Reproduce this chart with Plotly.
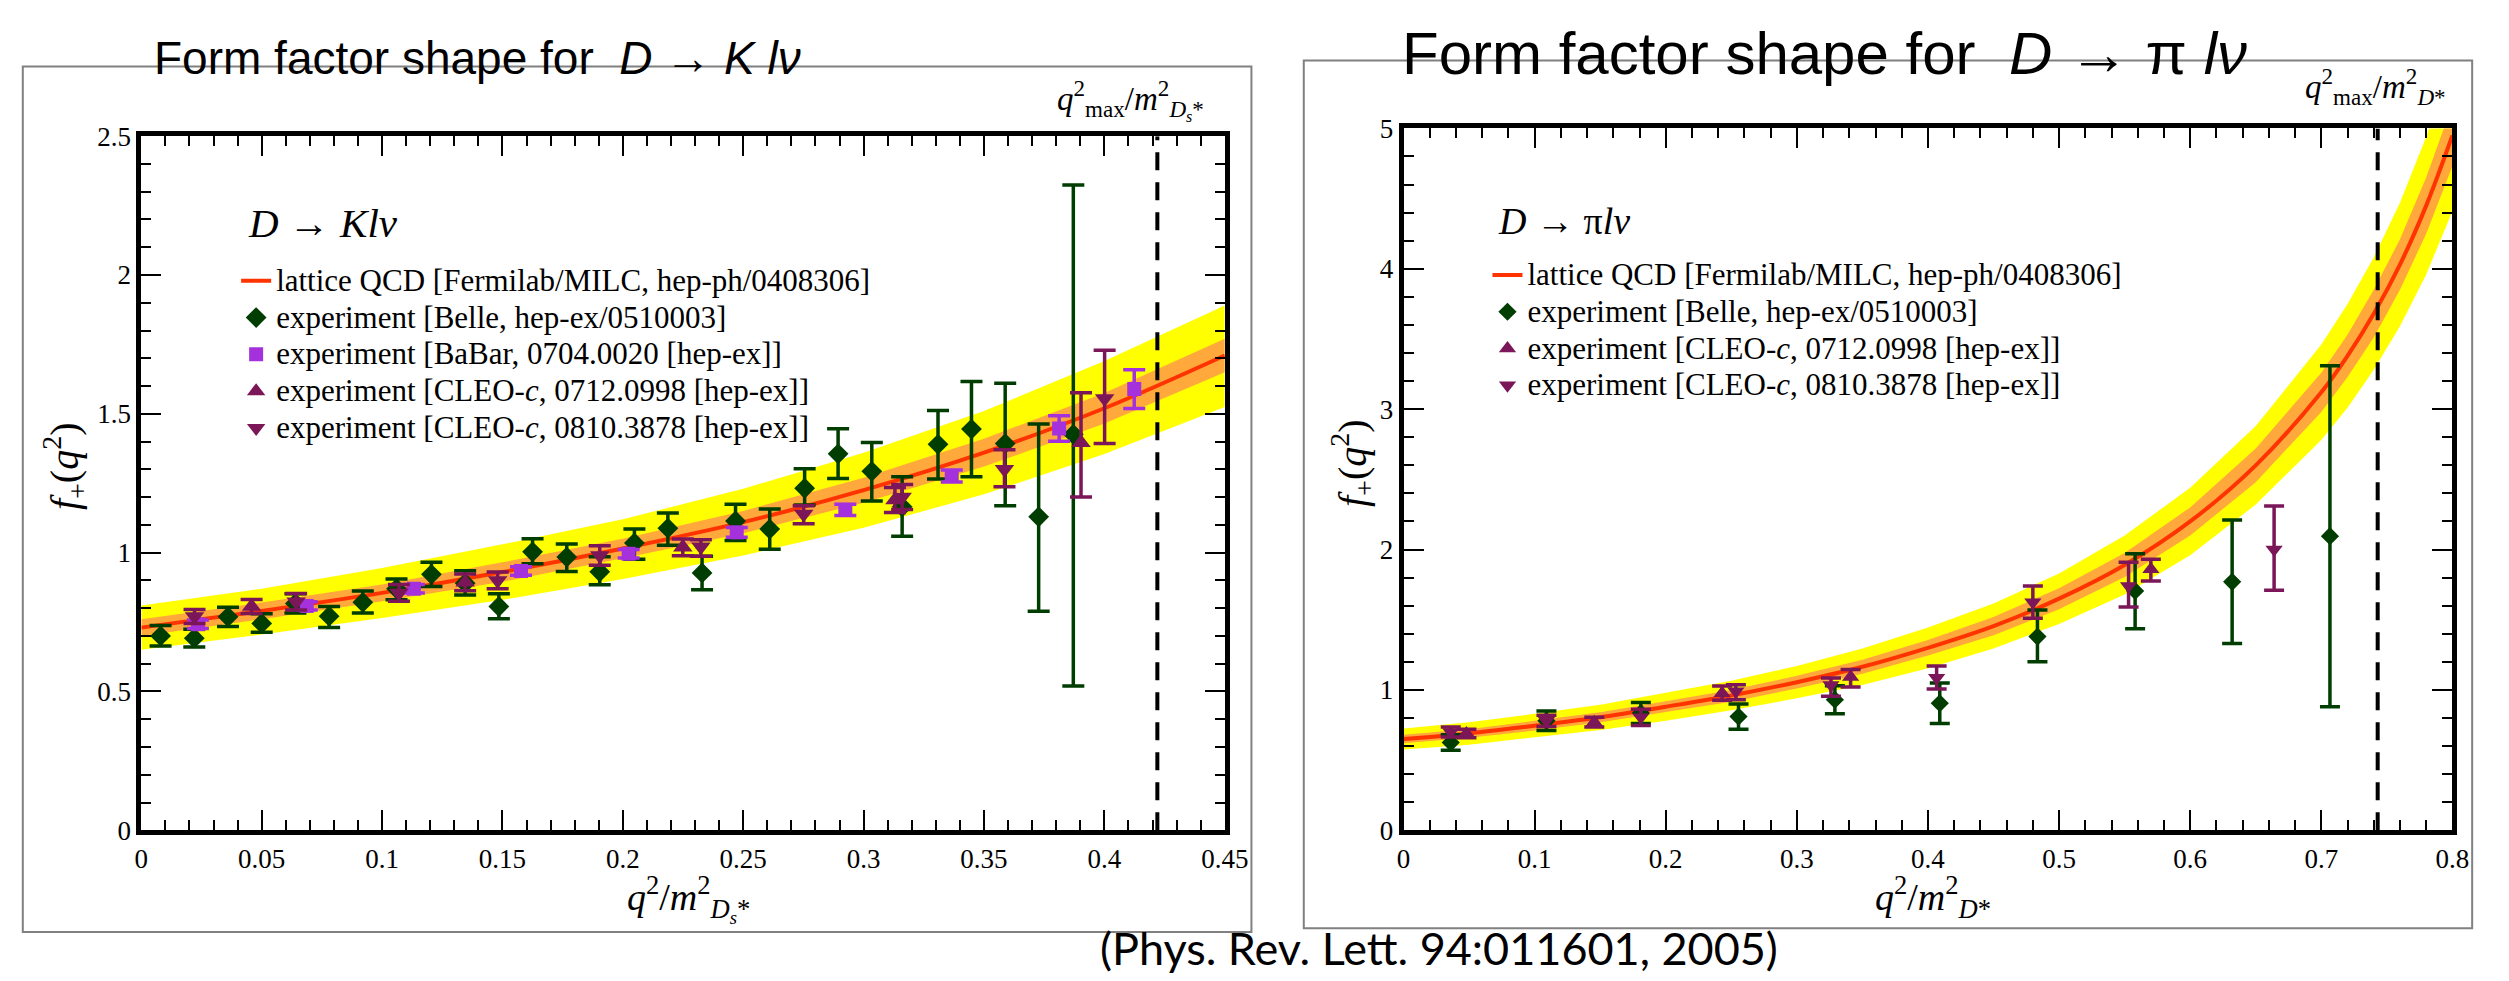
import plotly.graph_objects as go

W, H = 2509, 981

# ---------------- D -> K l nu (left panel) ----------------
k_xrange = [0, 0.45]
k_yrange = [0, 2.5]
k_qmax = 0.422

k_band_x    = [0.00, 0.05, 0.10, 0.15, 0.20, 0.25, 0.30, 0.35, 0.40, 0.45]
k_lqcd      = [0.73, 0.79, 0.855, 0.93, 1.015, 1.11, 1.225, 1.36, 1.52, 1.71]
k_yellow_hi = [0.81, 0.87, 0.945, 1.03, 1.12, 1.23, 1.36, 1.51, 1.69, 1.89]
k_yellow_lo = [0.65, 0.705, 0.765, 0.83, 0.905, 0.99, 1.09, 1.21, 1.355, 1.525]
k_orange_hi = [0.76, 0.82, 0.885, 0.965, 1.05, 1.15, 1.27, 1.41, 1.575, 1.77]
k_orange_lo = [0.70, 0.76, 0.825, 0.895, 0.98, 1.07, 1.18, 1.31, 1.465, 1.65]

k_belle_x  = [0.008, 0.022, 0.036, 0.050, 0.064, 0.078, 0.092, 0.106, 0.1205, 0.1345,
              0.1485, 0.1625, 0.1767, 0.1904, 0.2048, 0.2187, 0.2329, 0.2468, 0.261, 0.2755,
              0.2894, 0.3034, 0.316, 0.3309, 0.3448, 0.3588, 0.3727, 0.3871]
k_belle_y  = [0.70, 0.692, 0.769, 0.745, 0.817, 0.771, 0.821, 0.87, 0.922, 0.89,
              0.806, 1.003, 0.984, 0.931, 1.035, 1.088, 0.927, 1.114, 1.085, 1.232,
              1.356, 1.293, 1.165, 1.39, 1.445, 1.393, 1.129, 1.426]
k_belle_ep = [0.038, 0.032, 0.034, 0.035, 0.035, 0.035, 0.041, 0.035, 0.043, 0.045,
              0.046, 0.047, 0.047, 0.054, 0.05, 0.055, 0.06, 0.06, 0.072, 0.07,
              0.09, 0.104, 0.108, 0.122, 0.171, 0.217, 0.334, 0.898]
k_belle_em = [0.036, 0.032, 0.035, 0.032, 0.034, 0.041, 0.038, 0.04, 0.044, 0.043,
              0.044, 0.043, 0.052, 0.047, 0.059, 0.061, 0.061, 0.07, 0.073, 0.06,
              0.089, 0.107, 0.106, 0.125, 0.172, 0.224, 0.34, 0.906]

k_babar_x = [0.0235, 0.0687, 0.1132, 0.1577, 0.2024, 0.2473, 0.2924, 0.3366, 0.3812, 0.4124]
k_babar_y = [0.742, 0.808, 0.87, 0.934, 0.996, 1.073, 1.154, 1.276, 1.447, 1.589]
k_babar_e = [0.015, 0.015, 0.015, 0.015, 0.015, 0.018, 0.02, 0.022, 0.046, 0.07]

k_c07_x  = [0.0458, 0.1345, 0.2249, 0.313, 0.3903]
k_c07_y  = [0.806, 0.893, 1.019, 1.19, 1.396]
k_c07_ep = [0.025, 0.03, 0.03, 0.045, 0.18]
k_c07_em = [0.025, 0.03, 0.03, 0.045, 0.196]

k_c08_x  = [0.0221, 0.0643, 0.107, 0.148, 0.1904, 0.2324, 0.2751, 0.316, 0.3585, 0.4001]
k_c08_y  = [0.77, 0.823, 0.855, 0.90, 0.99, 1.021, 1.139, 1.20, 1.30, 1.555]
k_c08_ep = [0.025, 0.03, 0.03, 0.03, 0.035, 0.025, 0.03, 0.045, 0.071, 0.174]
k_c08_em = [0.025, 0.03, 0.03, 0.03, 0.035, 0.034, 0.035, 0.045, 0.063, 0.162]

# ---------------- D -> pi l nu (right panel) ----------------
p_xrange = [0, 0.8]
p_yrange = [0, 5]
p_qmax = 0.743

p_band_x    = [0, .05, .1, .15, .2, .25, .3, .35, .4, .45, .5, .55, .6, .65, .7, .72, .74, .76, .78, .8]
p_lqcd      = [0.65, 0.69, 0.745, 0.805, 0.88, 0.96, 1.055, 1.165, 1.30, 1.455, 1.65, 1.89, 2.2, 2.6, 3.12, 3.38, 3.68, 4.03, 4.45, 4.95]
p_yellow_hi = [0.725, 0.77, 0.83, 0.895, 0.98, 1.065, 1.17, 1.295, 1.445, 1.615, 1.83, 2.10, 2.44, 2.88, 3.46, 3.75, 4.08, 4.47, 4.94, 5.5]
p_yellow_lo = [0.575, 0.61, 0.66, 0.715, 0.78, 0.855, 0.94, 1.035, 1.155, 1.295, 1.47, 1.68, 1.96, 2.32, 2.78, 3.01, 3.28, 3.59, 3.96, 4.41]
p_orange_hi = [0.68, 0.72, 0.78, 0.84, 0.92, 1.0, 1.10, 1.215, 1.355, 1.52, 1.725, 1.975, 2.3, 2.72, 3.26, 3.53, 3.85, 4.21, 4.65, 5.17]
p_orange_lo = [0.62, 0.66, 0.71, 0.77, 0.84, 0.915, 1.01, 1.115, 1.245, 1.39, 1.575, 1.805, 2.1, 2.48, 2.98, 3.23, 3.51, 3.85, 4.25, 4.73]

p_belle_x  = [0.036, 0.109, 0.181, 0.2555, 0.329, 0.409, 0.4835, 0.558, 0.632, 0.7066]
p_belle_y  = [0.625, 0.78, 0.835, 0.81, 0.93, 0.905, 1.38, 1.705, 1.77, 2.095]
p_belle_ep = [0.055, 0.07, 0.075, 0.09, 0.1, 0.145, 0.19, 0.265, 0.44, 1.215]
p_belle_em = [0.055, 0.07, 0.075, 0.09, 0.1, 0.145, 0.18, 0.27, 0.44, 1.215]

p_c07_x  = [0.048, 0.1455, 0.243, 0.341, 0.570]
p_c07_y  = [0.69, 0.77, 0.977, 1.092, 1.86]
p_c07_ep = [0.03, 0.035, 0.05, 0.053, 0.07]
p_c07_em = [0.03, 0.035, 0.05, 0.072, 0.085]

p_c08_x  = [0.036, 0.109, 0.181, 0.2535, 0.326, 0.4066, 0.48, 0.553, 0.664]
p_c08_y  = [0.70, 0.78, 0.805, 0.99, 1.035, 1.086, 1.625, 1.74, 2.0]
p_c08_ep = [0.035, 0.04, 0.057, 0.046, 0.05, 0.084, 0.115, 0.17, 0.31]
p_c08_em = [0.035, 0.04, 0.058, 0.06, 0.081, 0.08, 0.115, 0.15, 0.29]

# legend labels
lab_lqcd = "lattice QCD [Fermilab/MILC, hep-ph/0408306]"
lab_belle = "experiment [Belle, hep-ex/0510003]"
lab_babar = "experiment [BaBar, 0704.0020 [hep-ex]]"
lab_c07 = "experiment [CLEO-<i>c</i>, 0712.0998 [hep-ex]]"
lab_c08 = "experiment [CLEO-<i>c</i>, 0810.3878 [hep-ex]]"

# ---------------- styles ----------------
BELLE = "#003d00"
BABAR = "#a431dc"
CLEO = "#7b1659"
LQCD = "#ff3300"
YELLOW = "#ffff00"
ORANGE = "#ffa83c"
SERIF = "Liberation Serif, Times New Roman, serif"
SANS = "Liberation Sans, Arial, Helvetica, sans-serif"
LEG_ROW_FONT = 26     # sets the legend row pitch
LEG_TEXT_FONT = 31    # size the legend text is drawn at


def px(x):
    return x / W


def py(y):
    return 1 - y / H


def legname(s):
    return '<span style="font-size:%dpx">%s</span>' % (LEG_TEXT_FONT, s)


fig = go.Figure()


def add_panel(xa, ya, leg, bx, yl, yh, ol, oh, lq, sets, capw):
    fig.add_trace(go.Scatter(x=bx + bx[::-1], y=yh + yl[::-1], fill="toself", fillcolor=YELLOW,
                             mode="lines", line=dict(width=0, color=YELLOW), xaxis=xa, yaxis=ya,
                             showlegend=False, hoverinfo="skip"))
    fig.add_trace(go.Scatter(x=bx + bx[::-1], y=oh + ol[::-1], fill="toself", fillcolor=ORANGE,
                             mode="lines", line=dict(width=0, color=ORANGE), xaxis=xa, yaxis=ya,
                             showlegend=False, hoverinfo="skip"))
    fig.add_trace(go.Scatter(x=bx, y=lq, mode="lines", line=dict(color=LQCD, width=4, shape="spline"),
                             name=legname(lab_lqcd), xaxis=xa, yaxis=ya, legend=leg))
    for (xs, ys, ep, em, col, sym, size, name) in sets:
        fig.add_trace(go.Scatter(
            x=xs, y=ys, mode="markers", name=legname(name), xaxis=xa, yaxis=ya, legend=leg,
            marker=dict(symbol=sym, size=size, color=col, line=dict(width=0)),
            error_y=dict(type="data", symmetric=False, array=ep, arrayminus=em,
                         color=col, thickness=3.5, width=capw)))


add_panel("x", "y", "legend", k_band_x, k_yellow_lo, k_yellow_hi, k_orange_lo, k_orange_hi, k_lqcd, [
    (k_belle_x, k_belle_y, k_belle_ep, k_belle_em, BELLE, "diamond", 16, lab_belle),
    (k_babar_x, k_babar_y, k_babar_e, k_babar_e, BABAR, "square", 14, lab_babar),
    (k_c07_x, k_c07_y, k_c07_ep, k_c07_em, CLEO, "triangle-up", 17, lab_c07),
    (k_c08_x, k_c08_y, k_c08_ep, k_c08_em, CLEO, "triangle-down", 17, lab_c08),
], 11)

add_panel("x2", "y2", "legend2", p_band_x, p_yellow_lo, p_yellow_hi, p_orange_lo, p_orange_hi, p_lqcd, [
    (p_belle_x, p_belle_y, p_belle_ep, p_belle_em, BELLE, "diamond", 14, lab_belle),
    (p_c07_x, p_c07_y, p_c07_ep, p_c07_em, CLEO, "triangle-up", 15, lab_c07),
    (p_c08_x, p_c08_y, p_c08_ep, p_c08_em, CLEO, "triangle-down", 15, lab_c08),
], 10)


def axis(domain, rng, dtick, minor, anchor):
    return dict(domain=domain, range=rng, dtick=dtick, tick0=0, anchor=anchor,
                ticks="inside", ticklen=20, tickwidth=2, tickcolor="black",
                minor=dict(dtick=minor, tick0=0, ticks="inside", ticklen=10, tickwidth=2, tickcolor="black"),
                showline=True, linewidth=5, linecolor="black", mirror="allticks",
                showgrid=False, zeroline=False,
                tickfont=dict(family=SERIF, size=27, color="black"))


fig.update_layout(
    width=W, height=H, autosize=False,
    margin=dict(l=0, r=0, t=0, b=0),
    paper_bgcolor="white", plot_bgcolor="white",
    xaxis=axis([px(136), px(1233)], k_xrange, 0.05, 0.01, "y"),
    yaxis=axis([py(841), py(125)], k_yrange, 0.5, 0.1, "x"),
    xaxis2=axis([px(1414), px(2476)], p_xrange, 0.1, 0.02, "y2"),
    yaxis2=axis([py(841), py(117)], p_yrange, 1, 0.2, "x2"),
    legend=dict(x=px(232), y=py(250), xanchor="left", yanchor="top", bgcolor="rgba(0,0,0,0)",
                font=dict(family=SERIF, size=LEG_ROW_FONT, color="black"), tracegroupgap=0),
    legend2=dict(x=px(1499), y=py(244), xanchor="left", yanchor="top", bgcolor="rgba(0,0,0,0)",
                 font=dict(family=SERIF, size=LEG_ROW_FONT, color="black"), tracegroupgap=0),
    showlegend=True,
)

# frames
fig.add_shape(type="rect", xref="paper", yref="paper", x0=px(16), x1=px(1260), y0=py(946), y1=py(53),
              line=dict(color="#808080", width=2), layer="below")
fig.add_shape(type="rect", xref="paper", yref="paper", x0=px(1313), x1=px(2496), y0=py(942), y1=py(47),
              line=dict(color="#808080", width=2), layer="below")

# q^2_max dashed lines
fig.add_shape(type="line", xref="x", yref="y", x0=k_qmax, x1=k_qmax, y0=k_yrange[0], y1=k_yrange[1],
              line=dict(color="black", width=4, dash="18px,12px"))
fig.add_shape(type="line", xref="x2", yref="y2", x0=p_qmax, x1=p_qmax, y0=p_yrange[0], y1=p_yrange[1],
              line=dict(color="black", width=4, dash="18px,12px"))


def ann(text, x, y, size, family=SERIF, xanchor="center", yanchor="middle", angle=0):
    fig.add_annotation(text=text, x=px(x), y=py(y), xref="paper", yref="paper", showarrow=False,
                       xanchor=xanchor, yanchor=yanchor, textangle=angle,
                       font=dict(family=family, size=size, color="black"))


# titles
ann("Form factor shape for  <i>D</i> → <i>K lν</i>", 476, 44, 46, SANS)
ann("Form factor shape for  <i>D</i> → π <i>lν</i>", 1840, 40, 60, SANS)

# process labels
ann("<i>D</i> → <i>Klν</i>", 242, 215, 41, xanchor="left")
ann("<i>D</i> → π<i>lν</i>", 1508, 212, 38, xanchor="left")

# axis titles
ann("<i>q</i><sup>2</sup>/<i>m</i><sup>2</sup><sub><i>D<sub>s</sub></i>*</sub>", 690, 912, 38)
ann("<i>q</i><sup>2</sup>/<i>m</i><sup>2</sup><sub><i>D</i>*</sub>", 1950, 910, 38)
ann("<i>f</i><sub>+</sub>(<i>q</i><sup>2</sup>)", 58, 465, 40, angle=-90)
ann("<i>f</i><sub>+</sub>(<i>q</i><sup>2</sup>)", 1362, 462, 40, angle=-90)

# q^2_max labels
ann("<i>q</i><sup>2</sup><sub>max</sub>/<i>m</i><sup>2</sup><sub><i>D<sub>s</sub></i>*</sub>", 1138, 88, 33)
ann("<i>q</i><sup>2</sup><sub>max</sub>/<i>m</i><sup>2</sup><sub><i>D</i>*</sub>", 2398, 74, 33)

# citation
ann("(Phys. Rev. Lett. 94:011601, 2005)", 1450, 962, 45, "Lato, Open Sans, sans-serif")

fig.write_html("out.html")
